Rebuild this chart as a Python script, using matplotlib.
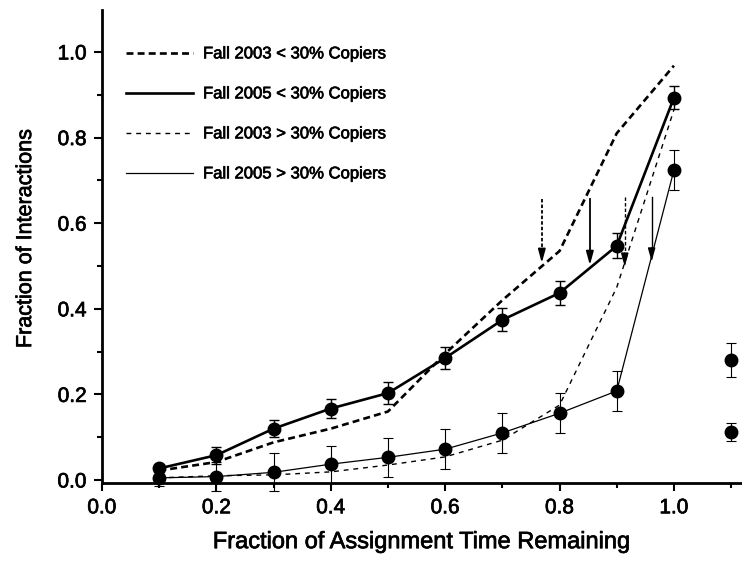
import numpy as np
import matplotlib.pyplot as plt
import matplotlib.patheffects as pe

plt.rcParams['font.family'] = ['Liberation Sans', 'DejaVu Sans']
plt.rcParams['lines.scale_dashes'] = False

# fraction of assignment time remaining
x = [0.1, 0.2, 0.3, 0.4, 0.5, 0.6, 0.7, 0.8, 0.9, 1.0]

# Fall 2003, < 30% copiers (no error bars)
f03_low = [0.022, 0.042, 0.088, 0.120, 0.160, 0.295, 0.420, 0.535, 0.810, 0.968]
# Fall 2005, < 30% copiers
f05_low = [0.027, 0.058, 0.120, 0.167, 0.203, 0.285, 0.374, 0.437, 0.547, 0.893]
f05_low_err = [0.008, 0.020, 0.020, 0.022, 0.025, 0.026, 0.027, 0.027, 0.029, 0.027]
# Fall 2003, > 30% copiers (no error bars)
f03_high = [0.005, 0.010, 0.012, 0.019, 0.035, 0.054, 0.093, 0.175, 0.450, 0.865]
# Fall 2005, > 30% copiers
f05_high = [0.005, 0.008, 0.018, 0.037, 0.053, 0.072, 0.110, 0.156, 0.208, 0.724]
f05_high_err = [0.020, 0.034, 0.044, 0.043, 0.046, 0.047, 0.047, 0.047, 0.047, 0.047]

# two extra points past the end of the assignment
x_extra = [1.1, 1.1]
y_extra = [0.280, 0.112]
err_extra = [0.040, 0.021]

# arrows marking where each curve passes 0.5
arrow_x = [0.769, 0.853, 0.914, 0.961]
arrow_top = [0.656, 0.656, 0.661, 0.661]
arrow_tip = [0.507, 0.502, 0.498, 0.510]

labels = ['Fall 2003 < 30% Copiers', 'Fall 2005 < 30% Copiers',
          'Fall 2003 > 30% Copiers', 'Fall 2005 > 30% Copiers']

# slightly heavier text, like the printed figure
heavy = [pe.withStroke(linewidth=0.5, foreground='black')]

fig = plt.figure(figsize=(7.42, 5.61), dpi=100)
ax = fig.add_axes([102/742, 1 - 483/561, 1 - 102/742, (483 - 10)/561])

thick_dash = (0, (5, 3))
thin_dash = (0, (3.5, 3.5))

ax.plot(x, f03_low, color='black', lw=1.9, ls=thick_dash, label=labels[0])
ax.plot(x, f05_low, color='black', lw=1.9, ls='-', label=labels[1])
ax.plot(x, f03_high, color='black', lw=1.0, ls=thin_dash, label=labels[2])
ax.plot(x, f05_high, color='black', lw=0.9, ls='-', label=labels[3])

# points with error bars
ax.errorbar(x, f05_low, yerr=f05_low_err, fmt='o', color='black', ms=9,
            elinewidth=1.0, capsize=3.5, capthick=1.0, clip_on=False, zorder=4)
ax.errorbar(x, f05_high, yerr=f05_high_err, fmt='o', color='black', ms=9,
            elinewidth=0.8, capsize=3.5, capthick=0.8, clip_on=False, zorder=4)
ax.errorbar(x_extra, y_extra, yerr=err_extra, fmt='o', color='black', ms=9,
            elinewidth=0.8, capsize=3.5, capthick=0.8, clip_on=False, zorder=4)

arrow_styles = [(0, (2.5, 1.5)), '-', (0, (2.5, 1.5)), '-']
arrow_lw = [1.3, 1.3, 1.0, 1.0]
for ax_x, top, tip, ls, lw in zip(arrow_x, arrow_top, arrow_tip, arrow_styles, arrow_lw):
    ax.plot([ax_x, ax_x], [top, tip + 0.025], color='black', lw=lw, ls=ls)
    ax.annotate('', xy=(ax_x, tip), xytext=(ax_x, tip + 0.032),
                arrowprops=dict(arrowstyle='-|>,head_length=0.8,head_width=0.22',
                                color='black', lw=lw, shrinkA=0, shrinkB=0))

ax.set_xlim(0.0, 1.119)
ax.set_ylim(-0.007, 1.098)
ax.set_xticks([0.0, 0.2, 0.4, 0.6, 0.8, 1.0])
ax.set_xticks([0.1, 0.3, 0.5, 0.7, 0.9, 1.1], minor=True)
ax.set_yticks([0.0, 0.2, 0.4, 0.6, 0.8, 1.0])
ax.set_yticks([0.1, 0.3, 0.5, 0.7, 0.9], minor=True)
ax.xaxis.set_major_formatter(plt.FormatStrFormatter('%.1f'))
ax.yaxis.set_major_formatter(plt.FormatStrFormatter('%.1f'))

ax.tick_params(which='major', direction='out', length=6, width=1.5, labelsize=15, pad=5)
ax.tick_params(which='minor', direction='out', length=3.5, width=1.5)

for side in ['top', 'right']:
    ax.spines[side].set_visible(False)
for side in ['left', 'bottom']:
    ax.spines[side].set_linewidth(2.0)

ax.set_xlabel('Fraction of Assignment Time Remaining', fontsize=17, labelpad=10)
ax.set_ylabel('Fraction of Interactions', fontsize=15.5)
ax.yaxis.set_label_coords(-0.103, 0.516)

leg = ax.legend(loc='upper left', bbox_to_anchor=(118/742, 1 - 38/561),
                bbox_transform=fig.transFigure, frameon=False, fontsize=12,
                handlelength=4.0, handletextpad=0.6, labelspacing=1.5, borderpad=0)

for t in (ax.get_xticklabels() + ax.get_yticklabels() + leg.get_texts()
          + [ax.xaxis.label, ax.yaxis.label]):
    t.set_path_effects(heavy)

plt.savefig('out.png', dpi=100)
